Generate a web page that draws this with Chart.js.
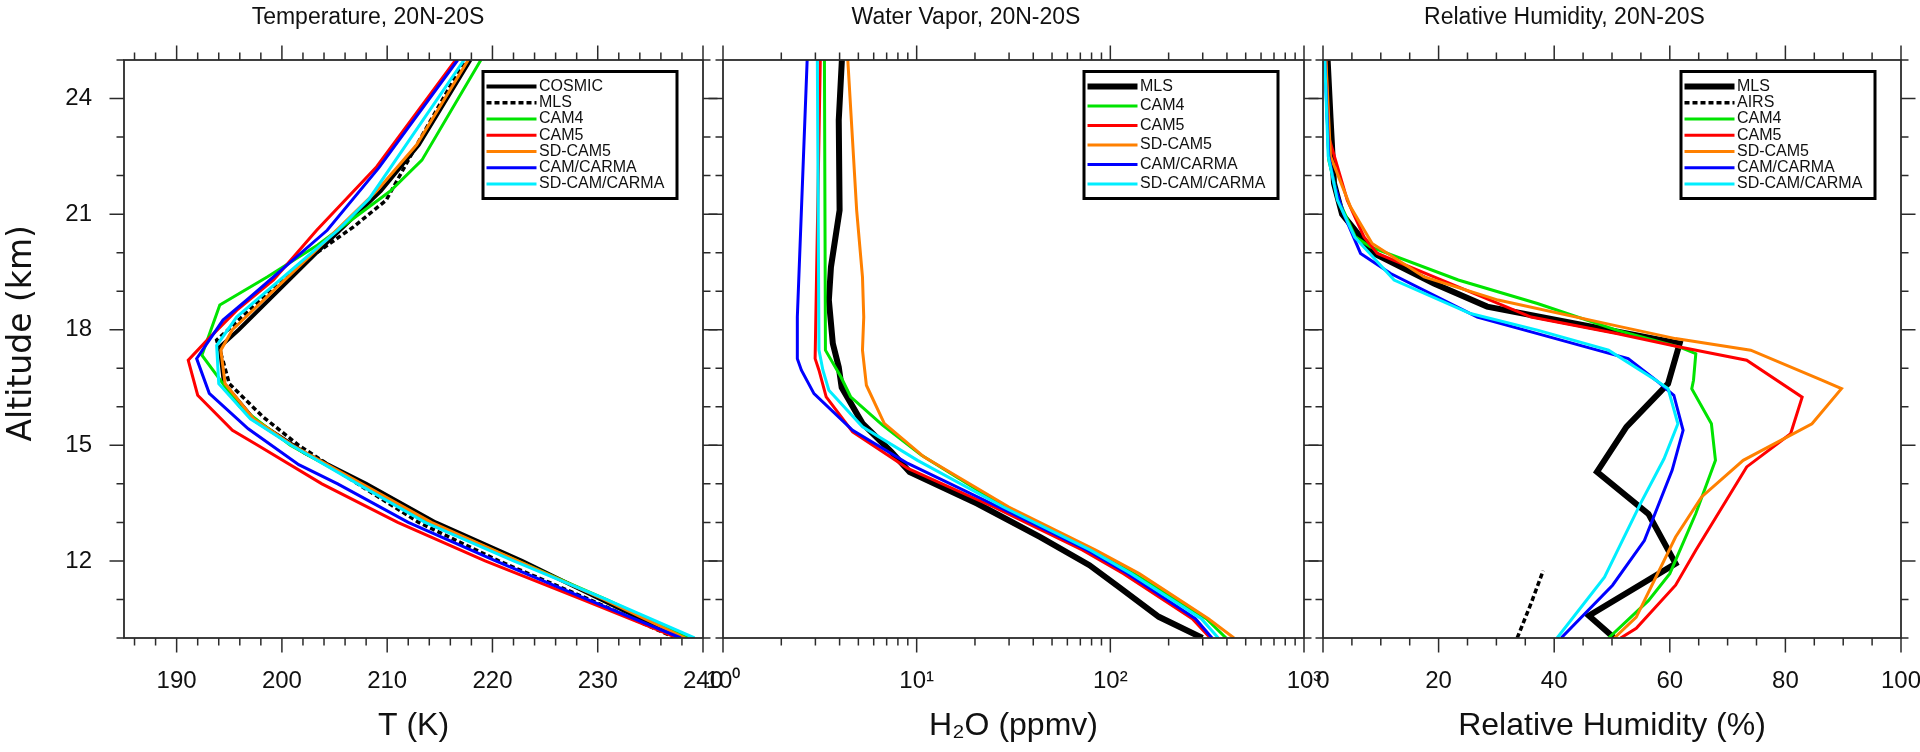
<!DOCTYPE html>
<html>
<head>
<meta charset="utf-8">
<title>Tropical profiles, 20N-20S</title>
<script src="https://cdn.jsdelivr.net/npm/chart.js@4.4.1/dist/chart.umd.min.js"></script>
<style>
  html, body { margin: 0; padding: 0; background: #fff; }
  #wrap { position: relative; width: 1920px; height: 752px; }
  #wrap canvas { position: absolute; left: 0; top: 0; }
</style>
</head>
<body>
<div id="wrap">
  <canvas id="tempChart" width="1920" height="752"></canvas>
  <canvas id="h2oChart" width="1920" height="752"></canvas>
  <canvas id="rhChart" width="1920" height="752"></canvas>
</div>
<script>
// every profile is a list of [altitude (km), value] rows, bottom to top

// temperature (K)
const tempCosmic = [[10, 237.8], [11, 230.3], [12, 222.8], [13, 214.6], [14, 208.0], [14.8, 202.2], [15.65, 197.4], [16.6, 194.5], [17.55, 194.1], [18.0, 195.9], [20, 203.3], [21.6, 209.4], [22.8, 213.0], [25, 217.9]];
const tempMls = [[10, 237.4], [11, 229.2], [12, 220.6], [13, 213.0], [14, 207.2], [15, 201.6], [15.74, 198.2], [16.6, 195.0], [17.2, 194.4], [17.73, 193.8], [19.63, 201.4], [20.67, 206.8], [21.36, 209.9], [22.84, 212.9], [25, 217.4]];
const tempCam4 = [[10, 238.6], [11, 230.8], [12, 222.4], [13, 214.0], [14, 207.4], [15, 200.8], [16, 196.0], [16.6, 194.4], [17.34, 192.4], [18.64, 194.1], [19.37, 198.6], [20.2, 203.4], [21.6, 210.3], [22.4, 213.3], [25, 218.9]];
const tempCam5 = [[10, 237.6], [11, 228.5], [12, 219.3], [13, 211.0], [14, 203.8], [15, 197.7], [15.39, 195.3], [16.3, 192.0], [17.21, 191.1], [17.73, 192.9], [18.5, 195.7], [19.29, 199.2], [20.58, 203.3], [22.23, 209.0], [25, 216.5]];
const tempSdCam5 = [[10, 238.3], [11, 230.6], [12, 222.4], [13, 214.2], [14, 207.6], [15, 201.0], [15.69, 197.3], [16.6, 194.6], [17.47, 194.2], [18.0, 195.3], [20, 203.0], [21.6, 209.0], [22.8, 212.8], [25, 217.7]];
const tempCarma = [[10, 237.9], [11, 229.0], [12, 220.3], [13, 212.0], [14, 205.3], [14.5, 201.6], [15.43, 196.8], [16.35, 193.1], [17.25, 191.9], [18.25, 194.4], [18.85, 197.0], [20.58, 204.3], [22.2, 209.2], [25, 216.7]];
const tempSdCarma = [[10, 239.2], [11, 230.8], [12, 222.0], [13, 213.6], [14, 207.2], [15, 200.9], [15.69, 197.0], [16.6, 194.0], [17.59, 193.8], [18.33, 195.7], [20.58, 205.3], [21.4, 208.3], [25, 217.3]];

// water vapour (ppmv)
const h2oMls = [[10, 299], [10.55, 178], [11.32, 111], [11.89, 78], [12.62, 43.5], [13.49, 20.5], [14.31, 9.2], [14.83, 7.4], [15.57, 5.25], [16.5, 4.1], [17.03, 3.96], [17.64, 3.69], [18.77, 3.52], [19.63, 3.61], [21.1, 4.0], [23.44, 3.96], [25, 4.11]];
const h2oCam4 = [[10, 396], [10.5, 313], [11.67, 132], [12.28, 80], [13.4, 28.5], [14.74, 10.6], [15.53, 6.64], [16.26, 4.56], [16.78, 4.06], [17.47, 3.38], [25, 3.34]];
const h2oCam5 = [[10, 328], [10.5, 265], [11.67, 117], [12.28, 72], [13.4, 25], [14.4, 9.0], [15.35, 4.67], [16.26, 3.41], [16.95, 3.13], [17.25, 2.99], [25, 3.18]];
const h2oSdCam5 = [[10, 435], [10.5, 321], [11.67, 141], [12.28, 84], [13.4, 29.9], [14.7, 10.9], [15.57, 6.8], [16.56, 5.5], [17.47, 5.25], [18.33, 5.33], [19.37, 5.25], [21.1, 4.9], [25, 4.41]];
const h2oCarma = [[10, 335], [10.5, 275], [11.67, 123], [12.28, 76], [13.4, 26.5], [14.53, 9.0], [15.39, 4.67], [16.34, 2.95], [16.95, 2.54], [17.25, 2.42], [18.33, 2.42], [25, 2.72]];
const h2oSdCarma = [[10, 361], [10.5, 295], [11.67, 128], [12.28, 79], [13.4, 28], [14.61, 10.1], [15.48, 5.25], [16.43, 3.52], [16.95, 3.28], [17.47, 3.13], [25, 3.07]];

// relative humidity (%)
const rhMls = [[10, 50.4], [10.58, 46.0], [11.93, 61.0], [13.22, 56.3], [14.31, 47.4], [15.48, 52.5], [16.6, 59.7], [17.64, 61.7], [18.6, 28.4], [19.2, 19.2], [19.98, 8.8], [21.0, 3.3], [21.8, 1.9], [23.5, 1.3], [25, 0.8]];
const rhAirs = [[10, 33.6], [10.9, 36.0], [11.75, 38.1]];
const rhCam4 = [[10, 49.4], [10.97, 56.3], [11.67, 60.0], [13.23, 64.5], [14.61, 67.9], [15.56, 67.2], [16.47, 63.8], [16.69, 64.1], [17.38, 64.5], [17.55, 61.7], [17.99, 50.8], [18.68, 37.1], [19.29, 23.4], [20.15, 8.2], [20.41, 5.6], [21.4, 2.6], [22.4, 1.0], [25, 0.4]];
const rhCam5 = [[10, 51.5], [10.25, 54.2], [11.37, 61.0], [12.28, 64.5], [14.44, 73.3], [15.3, 80.9], [16.25, 82.9], [17.21, 73.3], [17.55, 61.7], [17.9, 50.8], [18.33, 36.0], [19.37, 19.2], [19.98, 9.4], [20.41, 7.1], [21.36, 4.2], [23, 1.0], [25, 0.5]];
const rhSdCam5 = [[10, 50.4], [10.54, 54.2], [12.62, 61.0], [13.66, 65.5], [14.61, 72.7], [15.56, 84.6], [16.47, 89.7], [16.69, 86.3], [17.47, 74.0], [17.77, 61.0], [18.1, 50.8], [18.77, 30.3], [19.37, 17.5], [20.24, 8.5], [21.19, 4.75], [22.5, 1.3], [25, 0.5]];
const rhCarma = [[10, 41.2], [11.37, 50.1], [12.53, 55.6], [14.35, 60.4], [15.39, 62.3], [16.3, 60.7], [16.69, 57.6], [17.25, 52.8], [17.9, 37.1], [18.33, 26.7], [19.46, 11.7], [19.98, 6.5], [21.0, 3.6], [21.8, 1.9], [22.5, 1.0], [25, 0.3]];
const rhSdCarma = [[10, 40.5], [11.58, 48.7], [13.48, 54.9], [14.65, 59.0], [15.56, 61.4], [16.47, 59.7], [16.69, 57.6], [17.47, 49.4], [17.99, 37.1], [18.42, 25.5], [19.29, 12.3], [20.4, 5.5], [21.36, 2.5], [22.5, 0.9], [25, 0.3]];

// axis ticks
const altTicks = [12, 15, 18, 21, 24];
const tempTicks = [190, 200, 210, 220, 230, 240];
const h2oTicks = [1, 10, 100, 1000];
const h2oTickLabels = ['10\u2070', '10\u00b9', '10\u00b2', '10\u00b3'];
const rhTicks = [0, 20, 40, 60, 80, 100];

const colObs = '#000000';
const colCam4 = '#00e400';
const colCam5 = '#ff0000';
const colSdCam5 = '#ff8000';
const colCarma = '#0000ff';
const colSdCarma = '#00eeff';

Chart.defaults.font.family = '"Liberation Sans", Arial, Helvetica, sans-serif';
Chart.defaults.color = '#111';

function profile(label, rows, color, width, dash) {
    return {
        label: label,
        data: rows.map(r => ({ x: r[1], y: r[0] })),
        borderColor: color,
        borderWidth: width,
        borderDash: dash || [],
        showLine: true,
        pointRadius: 0,
        tension: 0,
        fill: false
    };
}

function minorTicks(from, to, step, majors) {
    let out = [];
    for (let v = from; v <= to + 1e-9; v += step) {
        let r = Math.round(v * 1000) / 1000;
        if (!majors.includes(r)) out.push(r);
    }
    return out;
}

const altMinor = minorTicks(10, 25, 1, altTicks);
const h2oMinor = [];
[1, 10, 100].forEach(d => { for (let m = 2; m < 10; m++) h2oMinor.push(m * d); });

// box, outward ticks on all four sides (major + minor)
function frameTicks(cfg) {
    return {
        id: 'frameTicks',
        afterDatasetsDraw(chart) {
            let { ctx, chartArea: a, scales } = chart;
            ctx.save();
            ctx.strokeStyle = '#2b2b2b';
            ctx.lineWidth = 1.8;
            ctx.strokeRect(a.left, a.top, a.right - a.left, a.bottom - a.top);
            ctx.lineWidth = 1.5;
            ctx.beginPath();
            let xMarks = (vals, len) => vals.forEach(v => {
                let px = scales.x.getPixelForValue(v);
                ctx.moveTo(px, a.bottom); ctx.lineTo(px, a.bottom + len);
                ctx.moveTo(px, a.top); ctx.lineTo(px, a.top - len);
            });
            let yMarks = (vals, len) => vals.forEach(v => {
                let py = scales.y.getPixelForValue(v);
                ctx.moveTo(a.left, py); ctx.lineTo(a.left - len, py);
                ctx.moveTo(a.right, py); ctx.lineTo(a.right + len, py);
            });
            xMarks(cfg.xTicks, 14.5);
            xMarks(cfg.xMinor, 7.5);
            yMarks(altTicks, 14.5);
            yMarks(altMinor, 7.5);
            ctx.stroke();
            ctx.restore();
        }
    };
}

// framed legend in the upper right corner of the plot
function boxLegend() {
    return {
        id: 'boxLegend',
        afterDraw(chart) {
            let { ctx, chartArea: a } = chart;
            let sets = chart.data.datasets;
            let w = 194, h = 127;
            let left = a.right - 26 - w, top = a.top + 11.5;
            let step = (h - 29.5) / (sets.length - 1);
            ctx.save();
            ctx.fillStyle = '#fff';
            ctx.fillRect(left, top, w, h);
            ctx.lineWidth = 3;
            ctx.strokeStyle = '#000';
            ctx.strokeRect(left, top, w, h);
            ctx.font = '16px "Liberation Sans", Arial, sans-serif';
            ctx.textBaseline = 'middle';
            sets.forEach((ds, i) => {
                let yy = top + 15 + i * step;
                ctx.beginPath();
                ctx.setLineDash(ds.borderDash);
                ctx.lineWidth = ds.borderWidth;
                ctx.strokeStyle = ds.borderColor;
                ctx.moveTo(left + 3.5, yy);
                ctx.lineTo(left + 53.5, yy);
                ctx.stroke();
                ctx.setLineDash([]);
                ctx.fillStyle = '#111';
                ctx.fillText(ds.label, left + 56, yy);
            });
            ctx.restore();
        }
    };
}

function makePanel(id, cfg) {
    // NCL-like draw order: later series sit on top
    cfg.datasets.forEach((d, i) => { d.order = cfg.datasets.length - i; });
    return new Chart(document.getElementById(id), {
        type: 'scatter',
        data: { datasets: cfg.datasets },
        options: {
            responsive: false,
            animation: false,
            devicePixelRatio: 1,
            events: [],
            layout: { padding: { left: cfg.padLeft, right: cfg.padRight, top: 0, bottom: 0 } },
            plugins: {
                legend: { display: false },
                tooltip: { enabled: false },
                title: {
                    display: true,
                    text: cfg.title,
                    font: { size: 23, weight: 'normal' },
                    padding: { top: 4, bottom: 28.4 }
                }
            },
            scales: {
                x: {
                    type: cfg.xType,
                    min: cfg.xMin,
                    max: cfg.xMax,
                    grid: { display: false, drawTicks: false },
                    border: { display: false },
                    afterBuildTicks: s => { s.ticks = cfg.xTicks.map(v => ({ value: v })); },
                    afterFit: s => { s.height = 114; s.paddingLeft = 0; s.paddingRight = 0; },
                    ticks: {
                        padding: 28.6,
                        font: { size: 24 },
                        maxRotation: 0,
                        autoSkip: false,
                        callback: (v, i) => cfg.xLabels ? cfg.xLabels[i] : String(v)
                    },
                    title: { display: true, text: cfg.xTitle, font: { size: 32 }, padding: { top: 0, bottom: 6.8 } }
                },
                y: {
                    type: 'linear',
                    min: 10,
                    max: 25,
                    grid: { display: false, drawTicks: false },
                    border: { display: false },
                    afterBuildTicks: s => { s.ticks = altTicks.map(v => ({ value: v })); },
                    afterFit: s => { s.width = cfg.yWidth; s.paddingTop = 0; s.paddingBottom = 0; },
                    ticks: { display: cfg.yLabels, padding: 32, font: { size: 24 } },
                    title: {
                        display: cfg.yLabels,
                        // leading blanks nudge the rotated label a bit above centre
                        text: '   Altitude (km)',
                        font: { family: '"DejaVu Sans", sans-serif', size: 33 },
                        padding: { top: -30.3, bottom: 0 }
                    }
                }
            }
        },
        plugins: [frameTicks(cfg), boxLegend()]
    });
}

makePanel('tempChart', {
    title: 'Temperature, 20N-20S',
    xTitle: 'T (K)',
    xType: 'linear', xMin: 185, xMax: 240,
    xTicks: tempTicks,
    xMinor: minorTicks(186, 238, 2, tempTicks),
    padLeft: 33, padRight: 1217, yWidth: 91, yLabels: true,
    datasets: [
        profile('COSMIC', tempCosmic, colObs, 4),
        profile('MLS', tempMls, colObs, 3.5, [5, 3]),
        profile('CAM4', tempCam4, colCam4, 3),
        profile('CAM5', tempCam5, colCam5, 3),
        profile('SD-CAM5', tempSdCam5, colSdCam5, 3),
        profile('CAM/CARMA', tempCarma, colCarma, 3),
        profile('SD-CAM/CARMA', tempSdCarma, colSdCarma, 3)
    ]
});

makePanel('h2oChart', {
    title: 'Water Vapor, 20N-20S',
    xTitle: 'H\u2082O (ppmv)',
    xType: 'logarithmic', xMin: 1, xMax: 1000,
    xTicks: h2oTicks,
    xLabels: h2oTickLabels,
    xMinor: h2oMinor,
    padLeft: 628, padRight: 616, yWidth: 95, yLabels: false,
    datasets: [
        profile('MLS', h2oMls, colObs, 6),
        profile('CAM4', h2oCam4, colCam4, 3),
        profile('CAM5', h2oCam5, colCam5, 3),
        profile('SD-CAM5', h2oSdCam5, colSdCam5, 3),
        profile('CAM/CARMA', h2oCarma, colCarma, 3),
        profile('SD-CAM/CARMA', h2oSdCarma, colSdCarma, 3)
    ]
});

makePanel('rhChart', {
    title: 'Relative Humidity, 20N-20S',
    xTitle: 'Relative Humidity (%)',
    xType: 'linear', xMin: 0, xMax: 100,
    xTicks: rhTicks,
    xMinor: minorTicks(0, 100, 5, rhTicks),
    padLeft: 1228, padRight: 19, yWidth: 95, yLabels: false,
    datasets: [
        profile('MLS', rhMls, colObs, 6),
        profile('AIRS', rhAirs, colObs, 3.5, [5, 3]),
        profile('CAM4', rhCam4, colCam4, 3),
        profile('CAM5', rhCam5, colCam5, 3),
        profile('SD-CAM5', rhSdCam5, colSdCam5, 3),
        profile('CAM/CARMA', rhCarma, colCarma, 3),
        profile('SD-CAM/CARMA', rhSdCarma, colSdCarma, 3)
    ]
});
</script>
</body>
</html>
